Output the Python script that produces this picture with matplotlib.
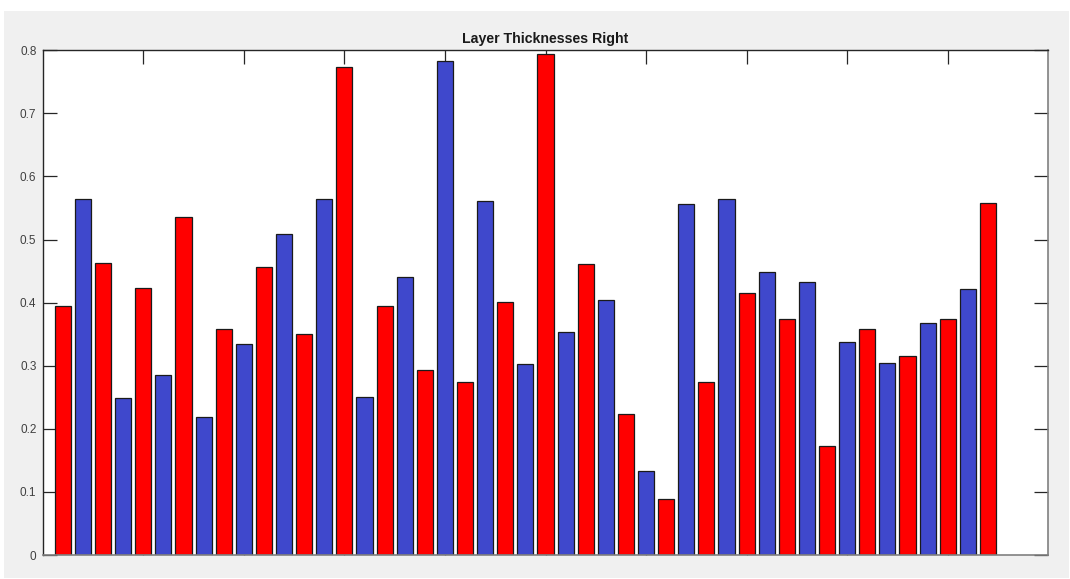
import matplotlib
matplotlib.use("Agg")
import matplotlib.pyplot as plt
from matplotlib.patches import Rectangle

# Layer thickness per index (alternating right-side layers)
layer_index = list(range(1, 48))
thickness = [
    0.394, 0.564, 0.463, 0.249, 0.424, 0.286, 0.535, 0.218, 0.359, 0.335,
    0.457, 0.509, 0.350, 0.565, 0.773, 0.250, 0.395, 0.440, 0.294, 0.783,
    0.274, 0.561, 0.401, 0.303, 0.794, 0.353, 0.461, 0.404, 0.223, 0.133,
    0.088, 0.556, 0.274, 0.564, 0.415, 0.449, 0.374, 0.433, 0.172, 0.337,
    0.359, 0.305, 0.315, 0.368, 0.374, 0.422, 0.558,
]
bar_colors = ["#FF0000" if i % 2 == 1 else "#3F48CC" for i in layer_index]
y_ticks = [0, 0.1, 0.2, 0.3, 0.4, 0.5, 0.6, 0.7, 0.8]
y_tick_labels = ["0", "0.1", "0.2", "0.3", "0.4", "0.5", "0.6", "0.7", "0.8"]
x_ticks = [5, 10, 15, 20, 25, 30, 35, 40, 45]

plt.rcParams["font.family"] = ["Liberation Sans", "DejaVu Sans"]

fig = plt.figure(figsize=(10.70, 5.79), dpi=100, facecolor="white")
fig.patches.append(Rectangle((4 / 1070, 1 / 579), 1065 / 1070, 567 / 579,
                             transform=fig.transFigure, facecolor="#F0F0F0",
                             edgecolor="none", zorder=-10))

ax = fig.add_axes([42.7 / 1070, 1 - 555 / 579, (1048.3 - 42.7) / 1070, (555 - 50.3) / 579])
ax.set_facecolor("white")

ax.bar(layer_index, thickness, width=0.8, color=bar_colors,
       edgecolor="#1a1a1a", linewidth=0.9, zorder=2)

ax.set_xlim(0, 50)
ax.set_ylim(0, 0.8)
ax.set_xticks(x_ticks)
ax.set_xticklabels([])
ax.set_yticks(y_ticks)
ax.set_yticklabels(y_tick_labels)

ax.tick_params(direction="in", length=10, width=0.9, color="#262626",
               top=True, right=True, bottom=True, left=True,
               labelsize=8.5, labelcolor="#404040", pad=4.5)

for side in ("top", "left"):
    ax.spines[side].set_color("#262626")
    ax.spines[side].set_linewidth(1.0)
for side in ("bottom", "right"):
    ax.spines[side].set_color("#808080")
    ax.spines[side].set_linewidth(1.2)

ax.set_title("Layer Thicknesses Right", fontsize=10.2, fontweight="bold",
             color="#1a1a1a", pad=5)

fig.savefig("out.png", dpi=100, facecolor="white")
